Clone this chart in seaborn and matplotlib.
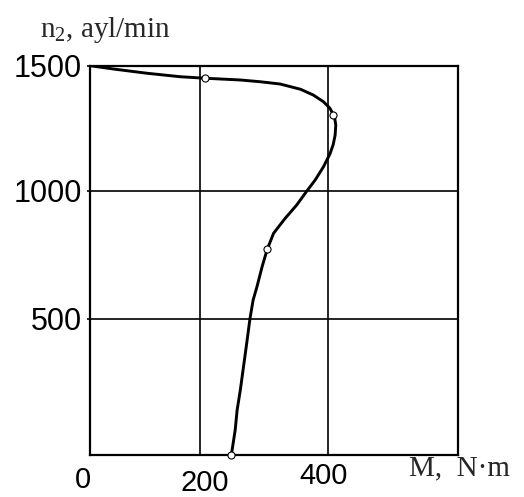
import numpy as np
import matplotlib
matplotlib.use("Agg")
import matplotlib.pyplot as plt
import matplotlib.transforms as mtrans
import seaborn as sns
import pandas as pd

# ---- data ----
torque = [0, 42, 103, 164, 208, 263, 294, 325, 357, 377,
          393, 403, 410, 412, 411, 408, 403, 393, 380, 367,
          351, 333, 315, 305, 297, 289, 283, 278, 273, 268,
          263, 258, 255, 251, 249]
speed = [1500, 1487, 1470, 1456, 1450, 1443, 1436, 1427, 1406, 1383,
         1356, 1330, 1296, 1263, 1223, 1185, 1148, 1097, 1044, 1000,
         945, 893, 835, 772, 704, 626, 574, 500, 411, 325,
         239, 165, 92, 31, 0]
marker_torque = [208, 407, 305, 249]
marker_speed = [1450, 1305, 772, 0]

x_ticks = [0, 200, 400]
x_labels = ["0", "200", "400"]
y_ticks = [500, 1000, 1500]
y_labels = ["500", "1000", "1500"]

# the drawing's axes are not evenly spaced: piecewise-linear scales
x_knots = [0, 200, 400, 600]
x_pix = [0, 110, 238, 367.7]
y_knots = [0, 500, 1000, 1500]
y_pix = [0, 136, 264, 389.3]


def make_scale(knots, pix):
    k = np.array(knots, float)
    p = np.array(pix, float)
    k_ext = np.concatenate([[k[0] - 1e5], k, [k[-1] + 1e5]])
    s0 = (p[1] - p[0]) / (k[1] - k[0])
    s1 = (p[-1] - p[-2]) / (k[-1] - k[-2])
    p_ext = np.concatenate([[p[0] - 1e5 * s0], p, [p[-1] + 1e5 * s1]])

    def fwd(v):
        return np.interp(v, k_ext, p_ext)

    def inv(v):
        return np.interp(v, p_ext, k_ext)
    return fwd, inv


sns.set_style("white")
plt.rcParams["font.family"] = ["Liberation Sans", "DejaVu Sans"]

W, H = 524, 497
fig = plt.figure(figsize=(W / 100, H / 100), dpi=100)
ax = fig.add_axes([90 / W, 1 - 455 / H, (457.7 - 90) / W, (455 - 65.7) / H])

ax.set_xscale("function", functions=make_scale(x_knots, x_pix))
ax.set_yscale("function", functions=make_scale(y_knots, y_pix))

df = pd.DataFrame({"M": torque, "n": speed})
sns.lineplot(data=df, x="M", y="n", sort=False, estimator=None,
             color="black", lw=2.1, ax=ax, zorder=3,
             solid_joinstyle="round", solid_capstyle="round")
mk = pd.DataFrame({"M": marker_torque, "n": marker_speed})
sns.scatterplot(data=mk, x="M", y="n", marker="o", s=26,
                facecolor="white", edgecolor="black", linewidth=0.8,
                ax=ax, zorder=4, clip_on=False)

ax.set_xlim(0, 600)
ax.set_ylim(0, 1500)
ax.set_xticks(x_ticks)
ax.set_xticklabels(x_labels)
ax.set_yticks(y_ticks)
ax.set_yticklabels(y_labels)
ax.set_xlabel("")
ax.set_ylabel("")

ax.grid(True, color="black", lw=1.2)
for s in ax.spines.values():
    s.set_color("black")
    s.set_linewidth(1.6)

ax.tick_params(axis="y", left=True, length=2.5, width=1.2, pad=3.5,
               labelsize=22, colors="black")
ax.tick_params(axis="x", bottom=False, length=0, pad=8,
               labelsize=21, colors="black")

# small hand-placement offsets of the x tick labels (pixels)
offsets = [(-7, 0), (5, -3), (-4, 4)]
for lab, (dx, dy) in zip(ax.get_xticklabels(), offsets):
    lab.set_transform(lab.get_transform() +
                      mtrans.ScaledTranslation(dx / 100, dy / 100, fig.dpi_scale_trans))

fig.text(40 / W, 1 - 36.7 / H, r"$\mathregular{n_2}$, ayl/min",
         family="Liberation Serif", fontsize=21, ha="left", va="baseline")
fig.text(409 / W, 1 - 475 / H, "M,  N\u00b7m",
         family="Liberation Serif", fontsize=21, ha="left", va="baseline")

fig.savefig("out.png", dpi=100, facecolor="white")
